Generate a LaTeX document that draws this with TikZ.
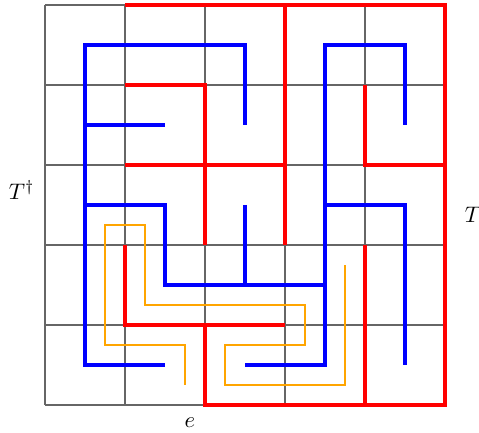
\documentclass[tikz,border=0pt]{standalone}
\usepackage{amsmath,amssymb}
\usepackage{xcolor}
\usepackage{tikz}
\usetikzlibrary{calc}
\definecolor{walkorange}{RGB}{255,165,0}
\tikzset{
  gridline/.style={line width=0.5pt, color=black!60, step=1.25cm},
  treeedge/.style={line width=2.2pt, color=red},
  dualedge/.style={line width=2.2pt, color=blue},
  walkline/.style={line width=0.9pt, color=walkorange},
  treelabel/.style={font=\normalsize},
}

\begin{document}
\begin{tikzpicture}[x=1.25cm, y=1.25cm]
  \useasboundingbox (-0.5625, -0.35) rectangle (5.425, 5.0625);

  % === Grid ===
  \draw[gridline] (0,0) grid (5,5);

  % === Walk around the tree ===
  \draw[walkline] (1.75,0.25) -- (1.75,0.75) -- (0.75,0.75) -- (0.75,2.25)
    -- (1.25,2.25) -- (1.25,1.25) -- (3.25,1.25) -- (3.25,0.75)
    -- (2.25,0.75) -- (2.25,0.25) -- (3.75,0.25) -- (3.75,1.75);

  % === Dual tree T^dagger ===
  \draw[dualedge] (2.5,3.5) -- (2.5,4.5) -- (0.5,4.5) -- (0.5,0.5) -- (1.5,0.5);
  \draw[dualedge] (0.5,3.5) -- (1.5,3.5);
  \draw[dualedge] (0.5,2.5) -- (1.5,2.5) -- (1.5,1.5) -- (3.5,1.5);
  \draw[dualedge] (2.5,2.5) -- (2.5,1.5);
  \draw[dualedge] (4.5,3.5) -- (4.5,4.5) -- (3.5,4.5) -- (3.5,0.5) -- (2.5,0.5);
  \draw[dualedge] (3.5,2.5) -- (4.5,2.5) -- (4.5,0.5);

  % === Tree T ===
  \draw[treeedge] (1,5) -- (5,5) -- (5,0) -- (2,0) -- (2,1);
  \draw[treeedge] (3,5) -- (3,2);
  \draw[treeedge] (1,3) -- (3,3);
  \draw[treeedge] (1,4) -- (2,4) -- (2,2);
  \draw[treeedge] (4,4) -- (4,3) -- (5,3);
  \draw[treeedge] (1,2) -- (1,1) -- (3,1);
  \draw[treeedge] (4,2) -- (4,0);

  % === Labels ===
  \node[treelabel] (dualname) at (-0.29, 2.69) {$T^\dagger$};
  \node[treelabel] (treename) at (5.35, 2.375) {$T$};
  \node[treelabel] (edgename) at (1.81, -0.225) {$e$};

\end{tikzpicture}
\end{document}
